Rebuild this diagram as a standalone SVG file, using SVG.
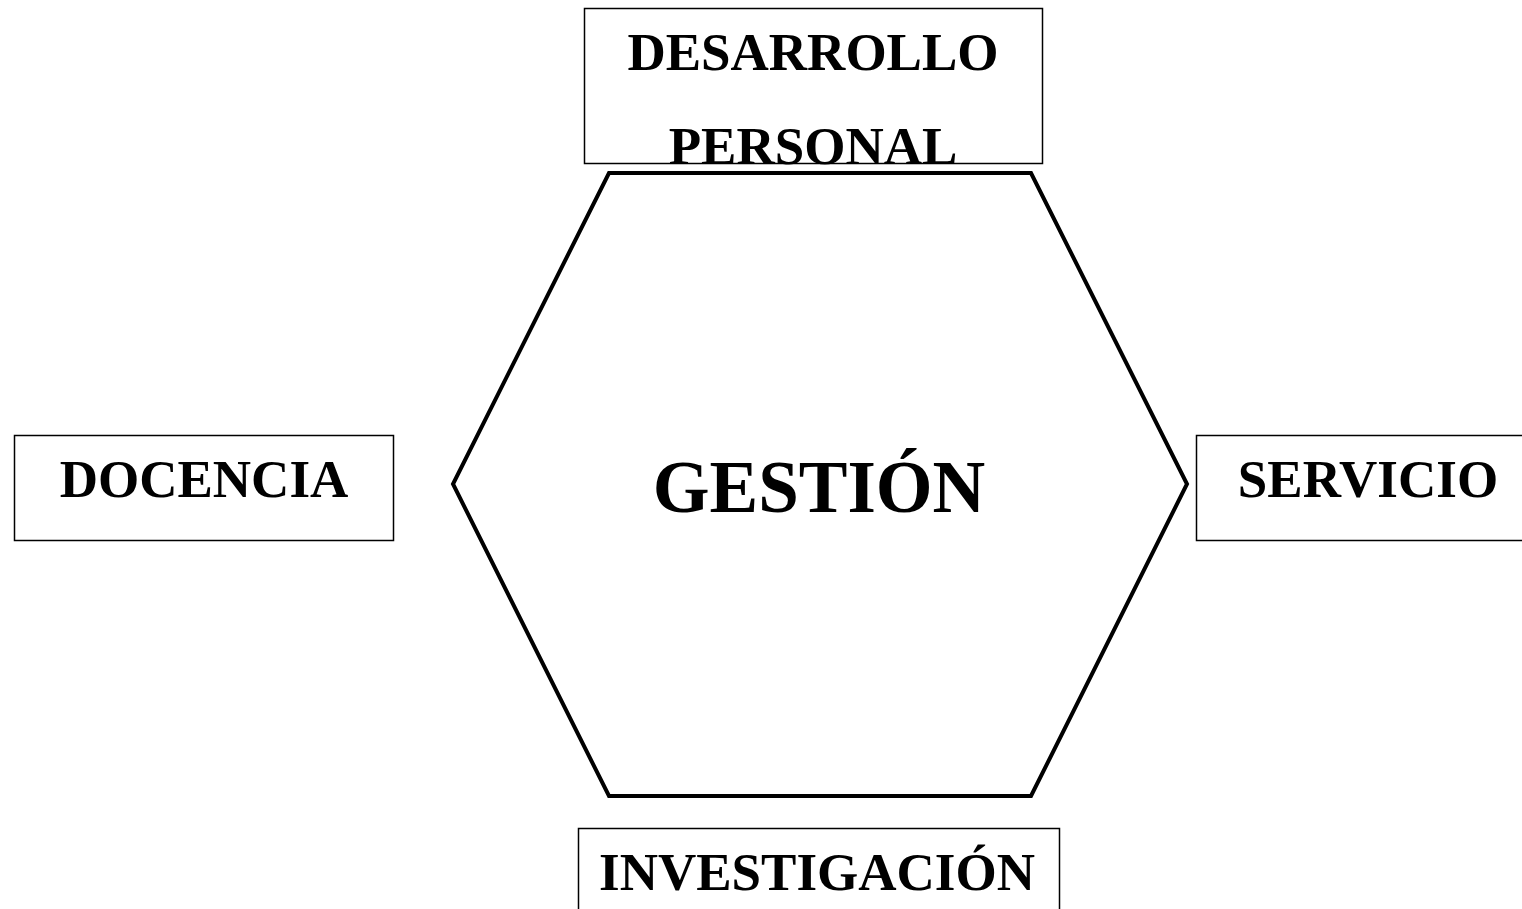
<svg xmlns="http://www.w3.org/2000/svg" width="1522" height="909" viewBox="0 0 1522 909">
<style>
.box{fill:none;stroke:#000;stroke-width:1.5}
.t{font-family:"Liberation Serif","Times New Roman",serif;font-weight:bold;font-size:53px;text-anchor:middle;fill:#000}
</style>
<rect width="1522" height="909" fill="#fff"/>
<g id="gestion">
<polygon points="609,173 1031,173 1187,484 1031,796 609,796 453,484" fill="none" stroke="#000" stroke-width="4" stroke-linejoin="miter"/>
<text class="t" x="819" y="512" style="font-size:73px">GESTIÓN</text>
</g>
<g id="desarrollo">
<rect class="box" x="584.5" y="8.5" width="458" height="155"/>
<text class="t" x="813" y="70">DESARROLLO</text>
<text class="t" x="813" y="164">PERSONAL</text>
</g>
<g id="docencia">
<rect class="box" x="14.5" y="435.5" width="379" height="105"/>
<text class="t" x="204" y="497">DOCENCIA</text>
</g>
<g id="servicio">
<rect class="box" x="1196.5" y="435.5" width="340" height="105"/>
<text class="t" x="1368" y="497">SERVICIO</text>
</g>
<g id="investigacion">
<rect class="box" x="578.5" y="828.5" width="481" height="120"/>
<text class="t" x="817" y="890">INVESTIGACIÓN</text>
</g>
<g id="connectors"></g>
</svg>
